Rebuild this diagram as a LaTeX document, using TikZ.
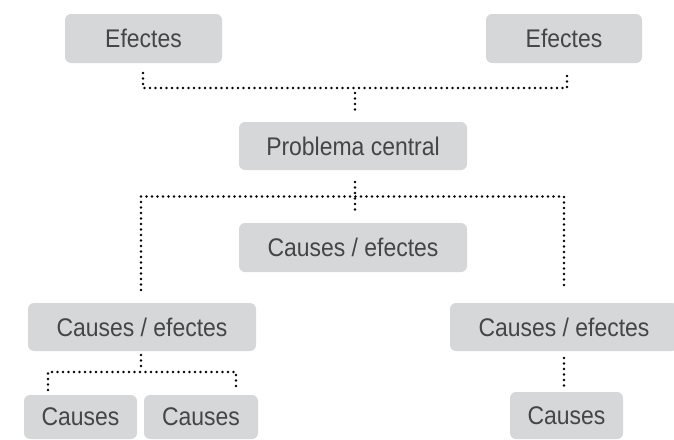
\documentclass[tikz,border=0pt]{standalone}
\usepackage{fontspec}
\setmainfont{Liberation Sans}[FakeStretch=0.9]
\definecolor{boxgray}{HTML}{D6D7D9}
\definecolor{txtgray}{HTML}{454545}
\tikzset{
  box/.style={fill=boxgray, rounded corners=6pt, inner sep=0pt, text=txtgray,
    font=\fontsize{25.5}{30}\selectfont},
  dots/.style={line width=2.8pt, line cap=round, dash pattern=on 0pt off 5.5pt, black}
}
\begin{document}
\begin{tikzpicture}[x=1pt,y=-1pt]
\useasboundingbox (0,0) rectangle (674,439);
\begin{scope}
\clip (0,0) rectangle (674,439);
% boxes
\node[box, minimum width=157pt, minimum height=49pt] (e1) at (143.5,38.5) {Efectes};
\node[box, minimum width=156pt, minimum height=49pt] (e2) at (564,38.5) {Efectes};
\node[box, minimum width=228pt, minimum height=48pt] (pc) at (353,146) {Problema central};
\node[box, minimum width=228pt, minimum height=49pt] (ce) at (353,247.5) {Causes / efectes};
\node[box, minimum width=228pt, minimum height=48pt] (cl) at (142,327) {Causes / efectes};
\node[box, minimum width=228pt, minimum height=48pt] (cr) at (564,327) {Causes / efectes};
\node[box, minimum width=113pt, minimum height=44pt] (c1) at (80.5,417) {Causes};
\node[box, minimum width=114pt, minimum height=44pt] (c2) at (201,417) {Causes};
\node[box, minimum width=113pt, minimum height=47pt] (c3) at (566.5,415.5) {Causes};
\end{scope}
% junction coordinates
\coordinate (a1) at (143,73);
\coordinate (a2) at (567,73);
\coordinate (atop) at (355,88);
\coordinate (ajt) at (355,93);
\coordinate (ajb) at (355,110);
\coordinate (b0) at (355,182);
\coordinate (b1) at (355,212);
\coordinate (bl) at (141,290);
\coordinate (br) at (564,290);
\coordinate (bh) at (355,196.5);
\coordinate (l0) at (141,355);
\coordinate (l1) at (141,370);
\coordinate (ll) at (48,390);
\coordinate (lr) at (236,390);
\coordinate (lh) at (141,372);
\coordinate (r0) at (564,358);
\coordinate (r1) at (564,387);
% connectors
\draw[dots] (a1) |- (atop) -| (a2);
\draw[dots] (ajt) -- (ajb);
\draw[dots] (b0) -- (b1);
\draw[dots] (bl) |- (bh) -| (br);
\draw[dots] (l0) -- (l1);
\draw[dots] (ll) |- (lh) -| (lr);
\draw[dots] (r0) -- (r1);
\end{tikzpicture}
\end{document}
